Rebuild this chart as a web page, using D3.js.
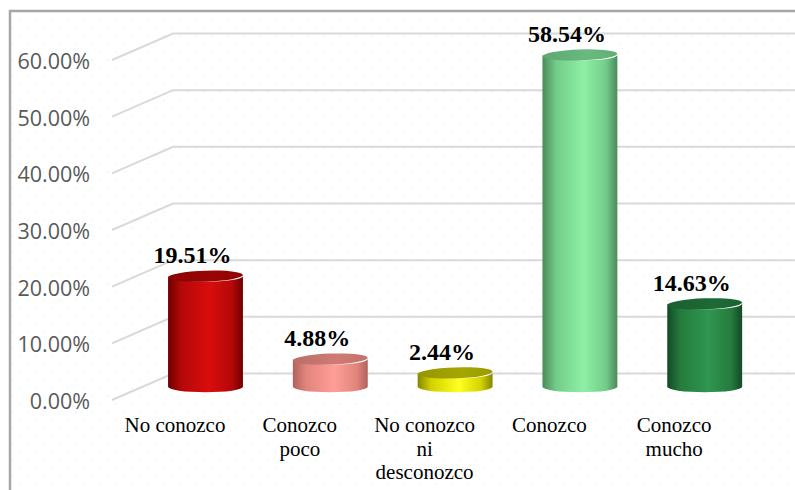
<!DOCTYPE html>
<html>
<head>
<meta charset="utf-8">
<script src="https://cdn.jsdelivr.net/npm/d3@7"></script>
<style>
  html, body { margin: 0; padding: 0; background: #fff; }
  svg { display: block; }
  .serif { font-family: "Liberation Serif", "Times New Roman", Tinos, "DejaVu Serif", serif; }
  .sans { font-family: "Open Sans", "Noto Sans", sans-serif; }
</style>
</head>
<body>
<svg id="chart" width="795" height="490"></svg>
<script>
// Survey answers and their shares
const categories = ["No conozco", "Conozco poco", "No conozco ni desconozco", "Conozco", "Conozco mucho"];
const labelLines = [["No conozco"], ["Conozco", "poco"], ["No conozco", "ni", "desconozco"], ["Conozco"], ["Conozco", "mucho"]];
const values = [0.1951, 0.0488, 0.0244, 0.5854, 0.1463];
const tickValues = [0, 0.1, 0.2, 0.3, 0.4, 0.5, 0.6];

// Cylinder shading per bar: [edge, mid, highlight, top]
const shades = [
  ["#6e0000", "#b50808", "#d90d0d", "#9a0404"],
  ["#b0625c", "#e2857d", "#ff9e96", "#cf7b74"],
  ["#858500", "#d2d200", "#ffff20", "#a6a600"],
  ["#4a8a5a", "#72cc88", "#8ef0a5", "#69ba7e"],
  ["#134a26", "#257c3d", "#2f9650", "#1d6a35"]
];

const svg = d3.select("#chart");
const defs = svg.append("defs");

// faint dotted background
const pat = defs.append("pattern").attr("id", "dots")
  .attr("patternUnits", "userSpaceOnUse").attr("width", 16).attr("height", 16);
pat.append("circle").attr("cx", 4).attr("cy", 4).attr("r", 0.8).attr("fill", "#dff3f3");
pat.append("circle").attr("cx", 12).attr("cy", 12).attr("r", 0.8).attr("fill", "#dff3f3");

svg.append("rect").attr("x", 10).attr("y", 11).attr("width", 800).attr("height", 500)
  .attr("fill", "#fff");
svg.append("rect").attr("x", 10).attr("y", 11).attr("width", 800).attr("height", 500)
  .attr("fill", "url(#dots)").attr("stroke", "#a6a6a6").attr("stroke-width", 2.5);

// 3D layout: front plane, back wall offset
const depthX = 61, depthY = -26.5;
const x = d3.scaleBand().domain(categories).range([112.6, 736.6])
  .paddingInner(0.4).paddingOuter(0.2);
const y = d3.scaleLinear().domain([0, 0.6]).range([400, 60]);
const frontLeft = 112;

// gridlines: diagonal on the side wall, horizontal on the back wall
const grid = svg.append("g").attr("stroke", "#d9d9d9").attr("stroke-width", 2).attr("fill", "none");
tickValues.forEach(t => {
  grid.append("path").attr("d",
    `M${frontLeft},${y(t)} L${frontLeft + depthX},${y(t) + depthY} L800,${y(t) + depthY}`);
});

// y-axis tick labels
svg.append("g").attr("class", "sans").selectAll("text").data(tickValues).join("text")
  .attr("x", 90).attr("y", d => y(d) + 0.5)
  .attr("text-anchor", "end").attr("dominant-baseline", "central")
  .attr("font-size", 21.5)
  .attr("fill", "#595959")
  .text(d => d3.format(".2%")(d));

// cylinders
const ry = 5.5;
const bars = svg.append("g");
const valueLabels = svg.append("g").attr("class", "serif");
values.forEach((v, i) => {
  const cat = categories[i];
  const cx = x(cat) + x.bandwidth() / 2 + depthX / 2;
  const rx = x.bandwidth() / 2;
  const baseY = y(0) + depthY / 2;
  const topY = baseY - (y(0) - y(v));
  const s = shades[i];

  const g = defs.append("linearGradient").attr("id", "body" + i)
    .attr("x1", 0).attr("x2", 1).attr("y1", 0).attr("y2", 0);
  [[0, s[0]], [0.18, s[1]], [0.55, s[2]], [0.85, s[1]], [1, s[0]]].forEach(([o, c]) =>
    g.append("stop").attr("offset", o).attr("stop-color", c));

  const gt = defs.append("linearGradient").attr("id", "top" + i)
    .attr("x1", 0).attr("x2", 1).attr("y1", 0).attr("y2", 0);
  [[0, d3.color(s[3]).darker(0.3)], [0.6, s[3]], [1, d3.color(s[3]).darker(0.2)]].forEach(([o, c]) =>
    gt.append("stop").attr("offset", o).attr("stop-color", c));

  bars.append("path")
    .attr("d", `M${cx - rx},${topY} L${cx - rx},${baseY}
      A${rx},${ry} 0 0 0 ${cx + rx},${baseY} L${cx + rx},${topY}
      A${rx},${ry} 0 0 1 ${cx - rx},${topY} Z`)
    .attr("fill", `url(#body${i})`);

  bars.append("ellipse")
    .attr("cx", cx).attr("cy", topY).attr("rx", rx).attr("ry", ry)
    .attr("transform", `rotate(-2 ${cx} ${topY})`)
    .attr("fill", `url(#top${i})`);

  // value label
  valueLabels.append("text")
    .attr("x", cx - 13).attr("y", topY - ry - 7.5)
    .attr("text-anchor", "middle")
    .attr("font-weight", "bold").attr("font-size", 24)
    .attr("fill", "#000")
    .text(d3.format(".2%")(v));
});

// category labels on the front plane
const cl = svg.append("g").attr("class", "serif")
  .attr("font-size", 21).attr("fill", "#000").attr("text-anchor", "middle");
categories.forEach((c, i) => {
  const cxl = x(c) + x.bandwidth() / 2;
  const t = cl.append("text").attr("x", cxl).attr("y", 432);
  labelLines[i].forEach((line, j) => {
    t.append("tspan").attr("x", cxl).attr("y", 432 + j * 23.5).text(line);
  });
});
</script>
</body>
</html>
